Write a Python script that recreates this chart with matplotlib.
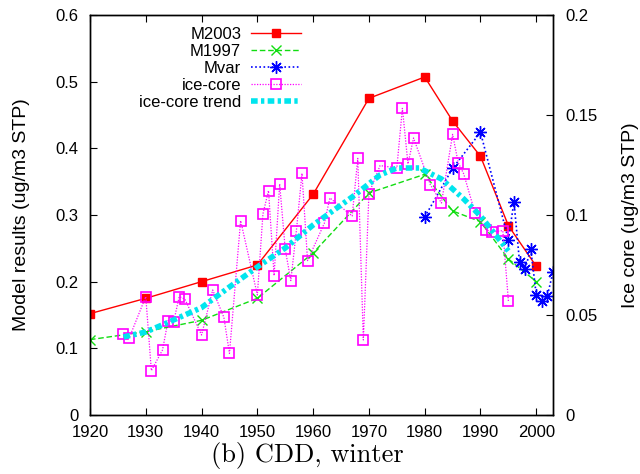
import matplotlib
matplotlib.use("Agg")
import matplotlib.pyplot as plt
from matplotlib.ticker import FormatStrFormatter, MultipleLocator

plt.rcParams['font.family'] = ['Liberation Sans', 'DejaVu Sans']
plt.rcParams['font.size'] = 12

# model results (left axis)
m2003_years = [1920, 1930, 1940, 1950, 1960, 1970, 1980, 1985, 1990, 1995, 2000]
m2003_vals = [0.152, 0.175, 0.200, 0.225, 0.331, 0.475, 0.507, 0.441, 0.388, 0.284, 0.223]

m1997_years = [1920, 1930, 1940, 1950, 1960, 1970, 1980, 1985, 1990, 1995, 2000]
m1997_vals = [0.113, 0.125, 0.142, 0.175, 0.243, 0.333, 0.361, 0.306, 0.290, 0.234, 0.200]

mvar_years = [1980, 1985, 1990, 1995, 1996, 1997, 1998, 1999, 2000, 2001, 2002, 2003]
mvar_vals = [0.297, 0.370, 0.424, 0.263, 0.320, 0.229, 0.219, 0.249, 0.180, 0.171, 0.179, 0.215]

# ice core (right axis)
ice_years = [1926, 1927, 1930, 1931, 1933, 1934, 1935, 1936, 1937, 1940,
             1942, 1944, 1945, 1947, 1950, 1951, 1952, 1953, 1954, 1955,
             1956, 1957, 1958, 1959, 1962, 1963, 1967, 1968, 1969, 1970,
             1972, 1975, 1976, 1977, 1978, 1981, 1983, 1985, 1986, 1987,
             1989, 1991, 1992, 1994, 1995]
ice_vals = [0.0403, 0.0383, 0.0592, 0.0222, 0.0325, 0.0472, 0.0467, 0.0592, 0.0580, 0.0400,
            0.0625, 0.0488, 0.0308, 0.0972, 0.0600, 0.1005, 0.1122, 0.0697, 0.1155, 0.0828,
            0.0672, 0.0922, 0.1208, 0.0772, 0.0958, 0.1085, 0.0995, 0.1283, 0.0375, 0.1107,
            0.1247, 0.1235, 0.1533, 0.1255, 0.1385, 0.1152, 0.1060, 0.1403, 0.1262, 0.1205,
            0.1012, 0.0927, 0.0915, 0.0922, 0.0570]

trend_years = [1926, 1930, 1934, 1940, 1945, 1950, 1955, 1960, 1963, 1967,
               1972, 1975, 1979, 1983, 1987, 1990, 1992, 1995]
trend_vals = [0.039, 0.0415, 0.0463, 0.0537, 0.064, 0.074, 0.0835, 0.095, 0.101, 0.109,
              0.120, 0.1235, 0.1235, 0.118, 0.108, 0.0995, 0.0925, 0.082]

fig = plt.figure(figsize=(6.4, 4.74), dpi=100)
ax = fig.add_axes([0.1406, 0.1245, 0.7235, 0.8439])
ax2 = ax.twinx()

l1, = ax.plot(m2003_years, m2003_vals, color='#ff0000', lw=1.0, marker='s', ms=6, label='M2003')
l2, = ax.plot(m1997_years, m1997_vals, color='#11dd11', lw=1.0, ls=(0, (4, 2)), marker='x', ms=7,
              mew=1.0, label='M1997')
l3, = ax.plot(mvar_years, mvar_vals, color='#0000ff', lw=1.2, ls=(0, (1, 1.5)), marker=(8, 2, 0),
              ms=9, mew=1.0, label='Mvar')
l4, = ax2.plot(ice_years, ice_vals, color='#ff00ff', lw=0.9, ls=(0, (1, 1.2)), marker='s', ms=7,
               mfc='none', mew=1.2, label='ice-core')
l5, = ax2.plot(trend_years, trend_vals, color='#00e5ee', lw=4, ls=(0, (1.2, 0.6, 0.6, 0.6)),
               label='ice-core trend')

ax.set_xlim(1920, 2003)
ax.set_ylim(0, 0.6)
ax2.set_ylim(0, 0.2)
ax.xaxis.set_major_locator(MultipleLocator(10))
ax.yaxis.set_major_locator(MultipleLocator(0.1))
ax2.yaxis.set_major_locator(MultipleLocator(0.05))
ax.yaxis.set_major_formatter(FormatStrFormatter('%g'))
ax2.yaxis.set_major_formatter(FormatStrFormatter('%g'))

ax.tick_params(axis='x', direction='in', top=True, length=5, pad=7, labelsize=12)
ax.tick_params(axis='y', direction='in', right=False, length=5, pad=8, labelsize=12)
ax2.tick_params(axis='y', direction='in', length=5, pad=9, labelsize=12)
for a in (ax, ax2):
    for s in a.spines.values():
        s.set_linewidth(1.0)

ax.set_ylabel('Model results (ug/m3 STP)', fontsize=14)
ax2.set_ylabel('Ice core (ug/m3 STP)', fontsize=14)
ax.yaxis.set_label_coords(-0.13, 0.5)
ax2.yaxis.set_label_coords(1.149, 0.5)
ax.set_xlabel('(b) CDD, winter', fontname='cmr10', fontsize=19)
ax.xaxis.set_label_coords(0.469, -0.067)

leg = ax2.legend(handles=[l1, l2, l3, l4, l5], loc='upper right', bbox_to_anchor=(0.474, 0.99),
                 frameon=False, markerfirst=False, borderpad=0, labelspacing=0.12,
                 handlelength=3.0, handletextpad=0.6, fontsize=12)

# gnuplot-style key: labels right-aligned next to the samples
fig.canvas.draw()
renderer = fig.canvas.get_renderer()
boxes = [t.get_window_extent(renderer) for t in leg.get_texts()]
right = max(b.x1 for b in boxes)
W, H = fig.bbox.width, fig.bbox.height
for t, b in zip(leg.get_texts(), boxes):
    fig.text(right / W, b.y0 / H, t.get_text(), ha='right', va='bottom', fontsize=12)
    t.set_visible(False)

fig.savefig('out.png', dpi=100)
